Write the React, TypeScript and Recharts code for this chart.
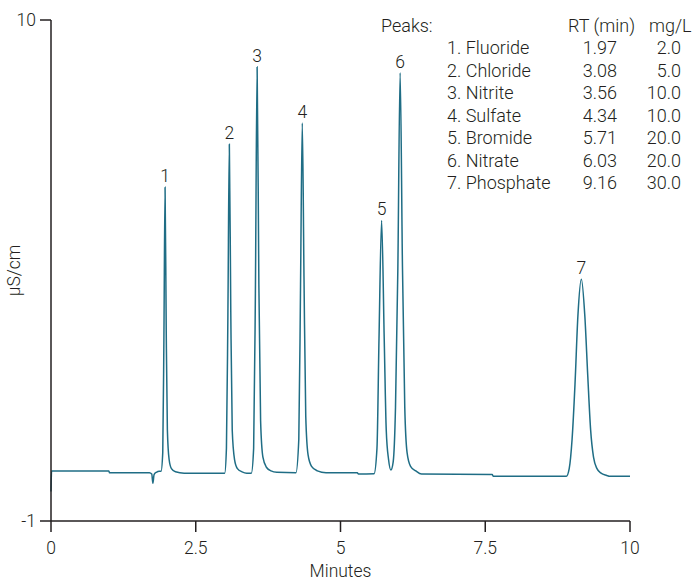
import React from "react";
import {
  ComposedChart, Line, XAxis, YAxis, ReferenceDot,
} from "recharts";

// chromatogram trace (minutes, µS/cm)
const times = [
  0, 0.01, 1.0, 1.01, 1.7, 1.74, 1.76, 1.78, 1.82, 1.87,
  1.9, 1.93, 1.95, 1.97, 1.99, 2.01, 2.04, 2.08, 2.15, 2.3,
  3.0, 3.03, 3.055, 3.08, 3.105, 3.13, 3.17, 3.22, 3.3, 3.38,
  3.46, 3.5, 3.53, 3.56, 3.59, 3.62, 3.66, 3.72, 3.8, 3.9,
  4.23, 4.28, 4.31, 4.34, 4.37, 4.4, 4.44, 4.5, 4.6, 4.75,
  5.29, 5.31,
  5.58, 5.63, 5.665, 5.71, 5.755, 5.79, 5.83, 5.87,
  5.91, 5.95, 5.99, 6.03, 6.07, 6.11, 6.15, 6.21, 6.3, 6.4,
  7.62, 7.64,
  8.9, 8.95, 9.0, 9.05, 9.1, 9.16, 9.22, 9.27, 9.32, 9.37, 9.43, 9.5, 9.6, 9.65,
  10.0,
];
const signal = [
  -0.35, 0.1, 0.1, 0.06, 0.06, 0.03, -0.17, 0.02, 0.07, 0.09,
  0.09, 0.5, 3.0, 6.33, 3.2, 1.0, 0.35, 0.15, 0.08, 0.05,
  0.05, 0.6, 3.5, 7.27, 3.6, 1.0, 0.35, 0.15, 0.08, 0.05,
  0.05, 0.6, 4.0, 8.97, 4.2, 1.2, 0.4, 0.18, 0.1, 0.07,
  0.06, 0.8, 4.2, 7.74, 4.3, 1.3, 0.45, 0.2, 0.1, 0.06,
  0.06, 0.03,
  0.04, 0.6, 3.0, 5.6, 3.0, 1.0, 0.35, 0.12,
  0.3, 1.5, 4.5, 8.84, 4.6, 1.5, 0.5, 0.2, 0.1, 0.03,
  0.02, -0.02,
  -0.02, 0.15, 0.8, 2.0, 3.5, 4.31, 3.5, 2.2, 1.0, 0.4, 0.15, 0.05, 0.0, -0.02,
  -0.02,
];

const peakNo = ["1", "2", "3", "4", "5", "6", "7"];
const peakNames = ["Fluoride", "Chloride", "Nitrite", "Sulfate", "Bromide", "Nitrate", "Phosphate"];
const peakRT = [1.97, 3.08, 3.56, 4.34, 5.71, 6.03, 9.16];
const peakTop = [6.33, 7.27, 8.97, 7.74, 5.6, 8.84, 4.31];
const peakConc = ["2.0", "5.0", "10.0", "10.0", "20.0", "20.0", "30.0"];

const xTicks = [0, 2.5, 5, 7.5, 10];
const yTicks = [-1, 10];

const data = times.map((t, i) => ({ t, v: signal[i] }));

const INK = "#231f20";
const TRACE = "#1f6d85";
const FONT = "Roboto, 'Liberation Sans', Arial, sans-serif";
const FS = 17.5;

export default function App() {
  const txt: React.CSSProperties = {
    position: "absolute", fontFamily: FONT, fontSize: 18, fontWeight: 300,
    color: INK, lineHeight: "20px", whiteSpace: "nowrap",
  };
  return (
    <div style={{ position: "absolute", left: 0, top: 0, width: 693, height: 582, background: "#fff" }}>
      <ComposedChart
        width={693}
        height={582}
        data={data}
        margin={{ top: 20, right: 63, bottom: 0, left: 0 }}
        style={{ fontFamily: FONT }}
      >
        <XAxis
          dataKey="t"
          type="number"
          domain={[0, 10]}
          ticks={xTicks}
          height={61}
          tickSize={11}
          tickMargin={10}
          stroke={INK}
          strokeWidth={1.5}
          tick={{ fontSize: FS, fill: INK, fontWeight: 300 }}
          label={{ value: "Minutes", position: "insideBottom", offset: 5, fontSize: FS, fill: INK, fontWeight: 300 }}
        />
        <YAxis
          type="number"
          domain={[-1, 10]}
          ticks={yTicks}
          width={51}
          tickSize={11}
          tickMargin={4}
          stroke={INK}
          strokeWidth={1.5}
          tick={{ fontSize: FS, fill: INK, fontWeight: 300 }}
          label={{
            value: "µS/cm", angle: -90, position: "insideLeft", offset: 14,
            fontSize: FS, fill: INK, fontWeight: 300, style: { textAnchor: "middle" },
          }}
        />
        <Line
          type="monotone"
          dataKey="v"
          stroke={TRACE}
          strokeWidth={1.5}
          dot={false}
          isAnimationActive={false}
        />
        {peakRT.map((rt, i) => (
          <ReferenceDot
            key={i}
            x={rt}
            y={peakTop[i]}
            r={0}
            stroke="none"
            fill="none"
            label={{ value: peakNo[i], position: "top", offset: 5, fontSize: FS, fill: INK, fontWeight: 300 }}
          />
        ))}
      </ComposedChart>

      <div style={{ ...txt, left: 381, top: 16 }}>Peaks:</div>
      <div style={{ ...txt, left: 568, top: 16 }}>RT (min)</div>
      <div style={{ ...txt, left: 649, top: 16 }}>mg/L</div>
      {peakNames.map((name, i) => (
        <React.Fragment key={name}>
          <div style={{ ...txt, left: 447, top: 38 + i * 22.5 }}>{peakNo[i]}. {name}</div>
          <div style={{ ...txt, left: 560, width: 57, textAlign: "right", top: 38 + i * 22.5 }}>
            {peakRT[i].toFixed(2)}
          </div>
          <div style={{ ...txt, left: 630, width: 51, textAlign: "right", top: 38 + i * 22.5 }}>
            {peakConc[i]}
          </div>
        </React.Fragment>
      ))}
    </div>
  );
}
